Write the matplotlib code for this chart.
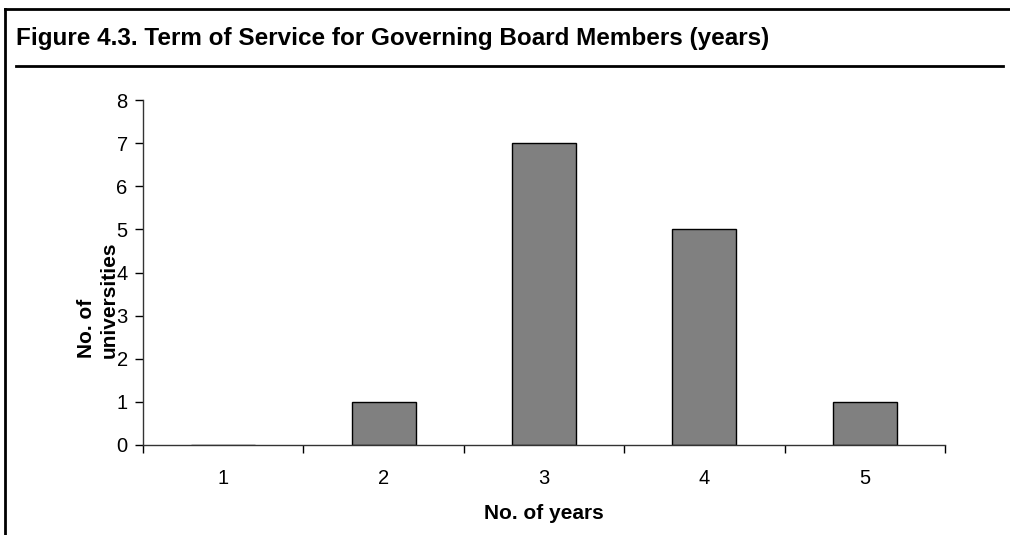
import matplotlib
matplotlib.use("Agg")
import matplotlib.pyplot as plt
from matplotlib.lines import Line2D

years = ["1", "2", "3", "4", "5"]
universities = [0, 1, 7, 5, 1]
yticks = [0, 1, 2, 3, 4, 5, 6, 7, 8]

plt.rcParams["font.family"] = ["Liberation Sans", "DejaVu Sans"]

W, H = 1010, 535
fig = plt.figure(figsize=(W / 100, H / 100), dpi=100)
ax = fig.add_axes([143 / W, 1 - 445 / H, (945 - 143) / W, (445 - 100) / H])

pos = list(range(len(years)))
ax.bar(pos, universities, width=0.4, color="#808080", edgecolor="black", linewidth=1, zorder=2)

ax.set_xlim(-0.5, len(years) - 0.5)
ax.set_ylim(0, 8)
ax.set_yticks(yticks)
ax.set_xticks(pos)
ax.set_xticklabels(years)
ax.set_xticks([p - 0.5 for p in range(len(years) + 1)], minor=True)
ax.tick_params(axis="x", which="major", length=0, pad=17, labelsize=14.5)
ax.tick_params(axis="x", which="minor", length=6, width=1, color="black")
ax.tick_params(axis="y", length=6, width=1, pad=5, labelsize=14.5, color="black")
for s in ["top", "right"]:
    ax.spines[s].set_visible(False)
for s in ["left", "bottom"]:
    ax.spines[s].set_color("#333333")
    ax.spines[s].set_linewidth(1)
    ax.spines[s].set_zorder(3)

ax.set_xlabel("No. of years", fontsize=15, fontweight="bold", labelpad=12)
fig.text(98 / W, 1 - 358 / H, "No. of\nuniversities", rotation=90, ha="center", va="bottom",
         multialignment="left", fontsize=15, fontweight="bold", linespacing=1.3)

fig.text(16 / W, 1 - 38 / H, "Figure 4.3. Term of Service for Governing Board Members (years)",
         fontsize=17.5, fontweight="bold", ha="left", va="center")

# frame lines
fig.add_artist(Line2D([4.5 / W, 4.5 / W], [0, 1 - 8.5 / H], color="black", lw=2))
fig.add_artist(Line2D([4.5 / W, 1], [1 - 8.5 / H, 1 - 8.5 / H], color="black", lw=2))
fig.add_artist(Line2D([16 / W, 1003 / W], [1 - 66 / H, 1 - 66 / H], color="black", lw=2))

fig.savefig("out.png", dpi=100)
